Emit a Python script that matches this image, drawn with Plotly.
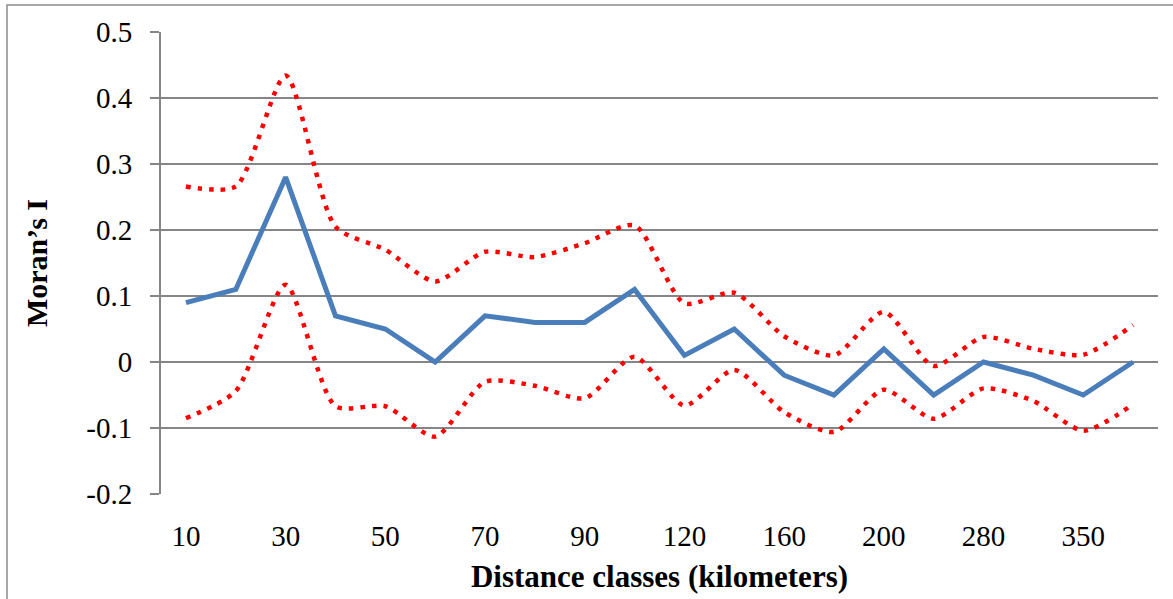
import plotly.graph_objects as go

# distance classes (km); every other label is shown on the axis
distance_classes = ["10", "20", "30", "40", "50", "60", "70", "80", "90", "100",
                    "120", "140", "160", "180", "200", "240", "280", "320", "350", "400"]
shown_labels = distance_classes[::2]

morans_i = [0.09, 0.11, 0.28, 0.07, 0.05, 0.0, 0.07, 0.06, 0.06, 0.11,
            0.01, 0.05, -0.02, -0.05, 0.02, -0.05, 0.0, -0.02, -0.05, 0.0]
upper_ci = [0.266, 0.266, 0.434, 0.205, 0.17, 0.122, 0.167, 0.159, 0.18, 0.207,
            0.089, 0.105, 0.039, 0.01, 0.076, -0.006, 0.038, 0.02, 0.011, 0.056]
lower_ci = [-0.085, -0.044, 0.117, -0.067, -0.067, -0.113, -0.03, -0.036, -0.055, 0.008,
            -0.066, -0.012, -0.076, -0.106, -0.042, -0.086, -0.04, -0.059, -0.104, -0.064]

y_ticks = [0.5, 0.4, 0.3, 0.2, 0.1, 0, -0.1, -0.2]
y_ticktext = ["0.5", "0.4", "0.3", "0.2", "0.1", "0", "-0.1", "-0.2"]

font_family = "Liberation Serif, Times New Roman, serif"
grid_color = "#868686"

fig = go.Figure()

for band in (upper_ci, lower_ci):
    fig.add_trace(go.Scatter(
        x=distance_classes, y=band, mode="lines",
        line=dict(color="#ff0000", width=4.5, dash="4.5px,7px", shape="spline", smoothing=0.7),
        showlegend=False, hoverinfo="skip"
    ))

fig.add_trace(go.Scatter(
    x=distance_classes, y=morans_i, mode="lines",
    line=dict(color="#4a7ebb", width=5),
    showlegend=False
))

# thin frame around the whole chart (right and bottom edges fall outside the view)
fig.add_shape(type="rect", xref="paper", yref="paper",
              x0=(7 - 161) / 997, x1=(1200 - 161) / 997,
              y0=(494 - 610) / 462, y1=(494 - 5) / 462,
              line=dict(color="#8c8c8c", width=1.5), layer="below")

fig.update_layout(
    width=1173, height=599,
    margin=dict(l=161, r=15, t=32, b=105),
    paper_bgcolor="white", plot_bgcolor="white",
    font=dict(family=font_family, size=29, color="black"),
    xaxis=dict(
        type="category", range=[-0.5, 19.5], automargin=False,
        tickmode="array", tickvals=shown_labels, ticktext=shown_labels,
        ticks="", showgrid=False, showline=False, zeroline=False,
        tickfont=dict(size=29), ticklabelstandoff=22,
        title=dict(text="<b>Distance classes (kilometers)</b>", standoff=14,
                   font=dict(family=font_family, size=31))
    ),
    yaxis=dict(
        range=[-0.2, 0.5], automargin=False,
        tickmode="array", tickvals=y_ticks, ticktext=y_ticktext,
        ticks="outside", ticklen=9, tickwidth=2, tickcolor=grid_color,
        showgrid=True, gridcolor=grid_color, gridwidth=2,
        zeroline=True, zerolinecolor=grid_color, zerolinewidth=2,
        showline=True, linecolor=grid_color, linewidth=2,
        tickfont=dict(size=29), ticklabelstandoff=12,
        title=dict(text="<b>Moran’s I</b>", standoff=30,
                   font=dict(family=font_family, size=30))
    ),
)

fig.write_html("out.html", config={"displayModeBar": False},
               post_script="document.body.style.margin = '0';")
